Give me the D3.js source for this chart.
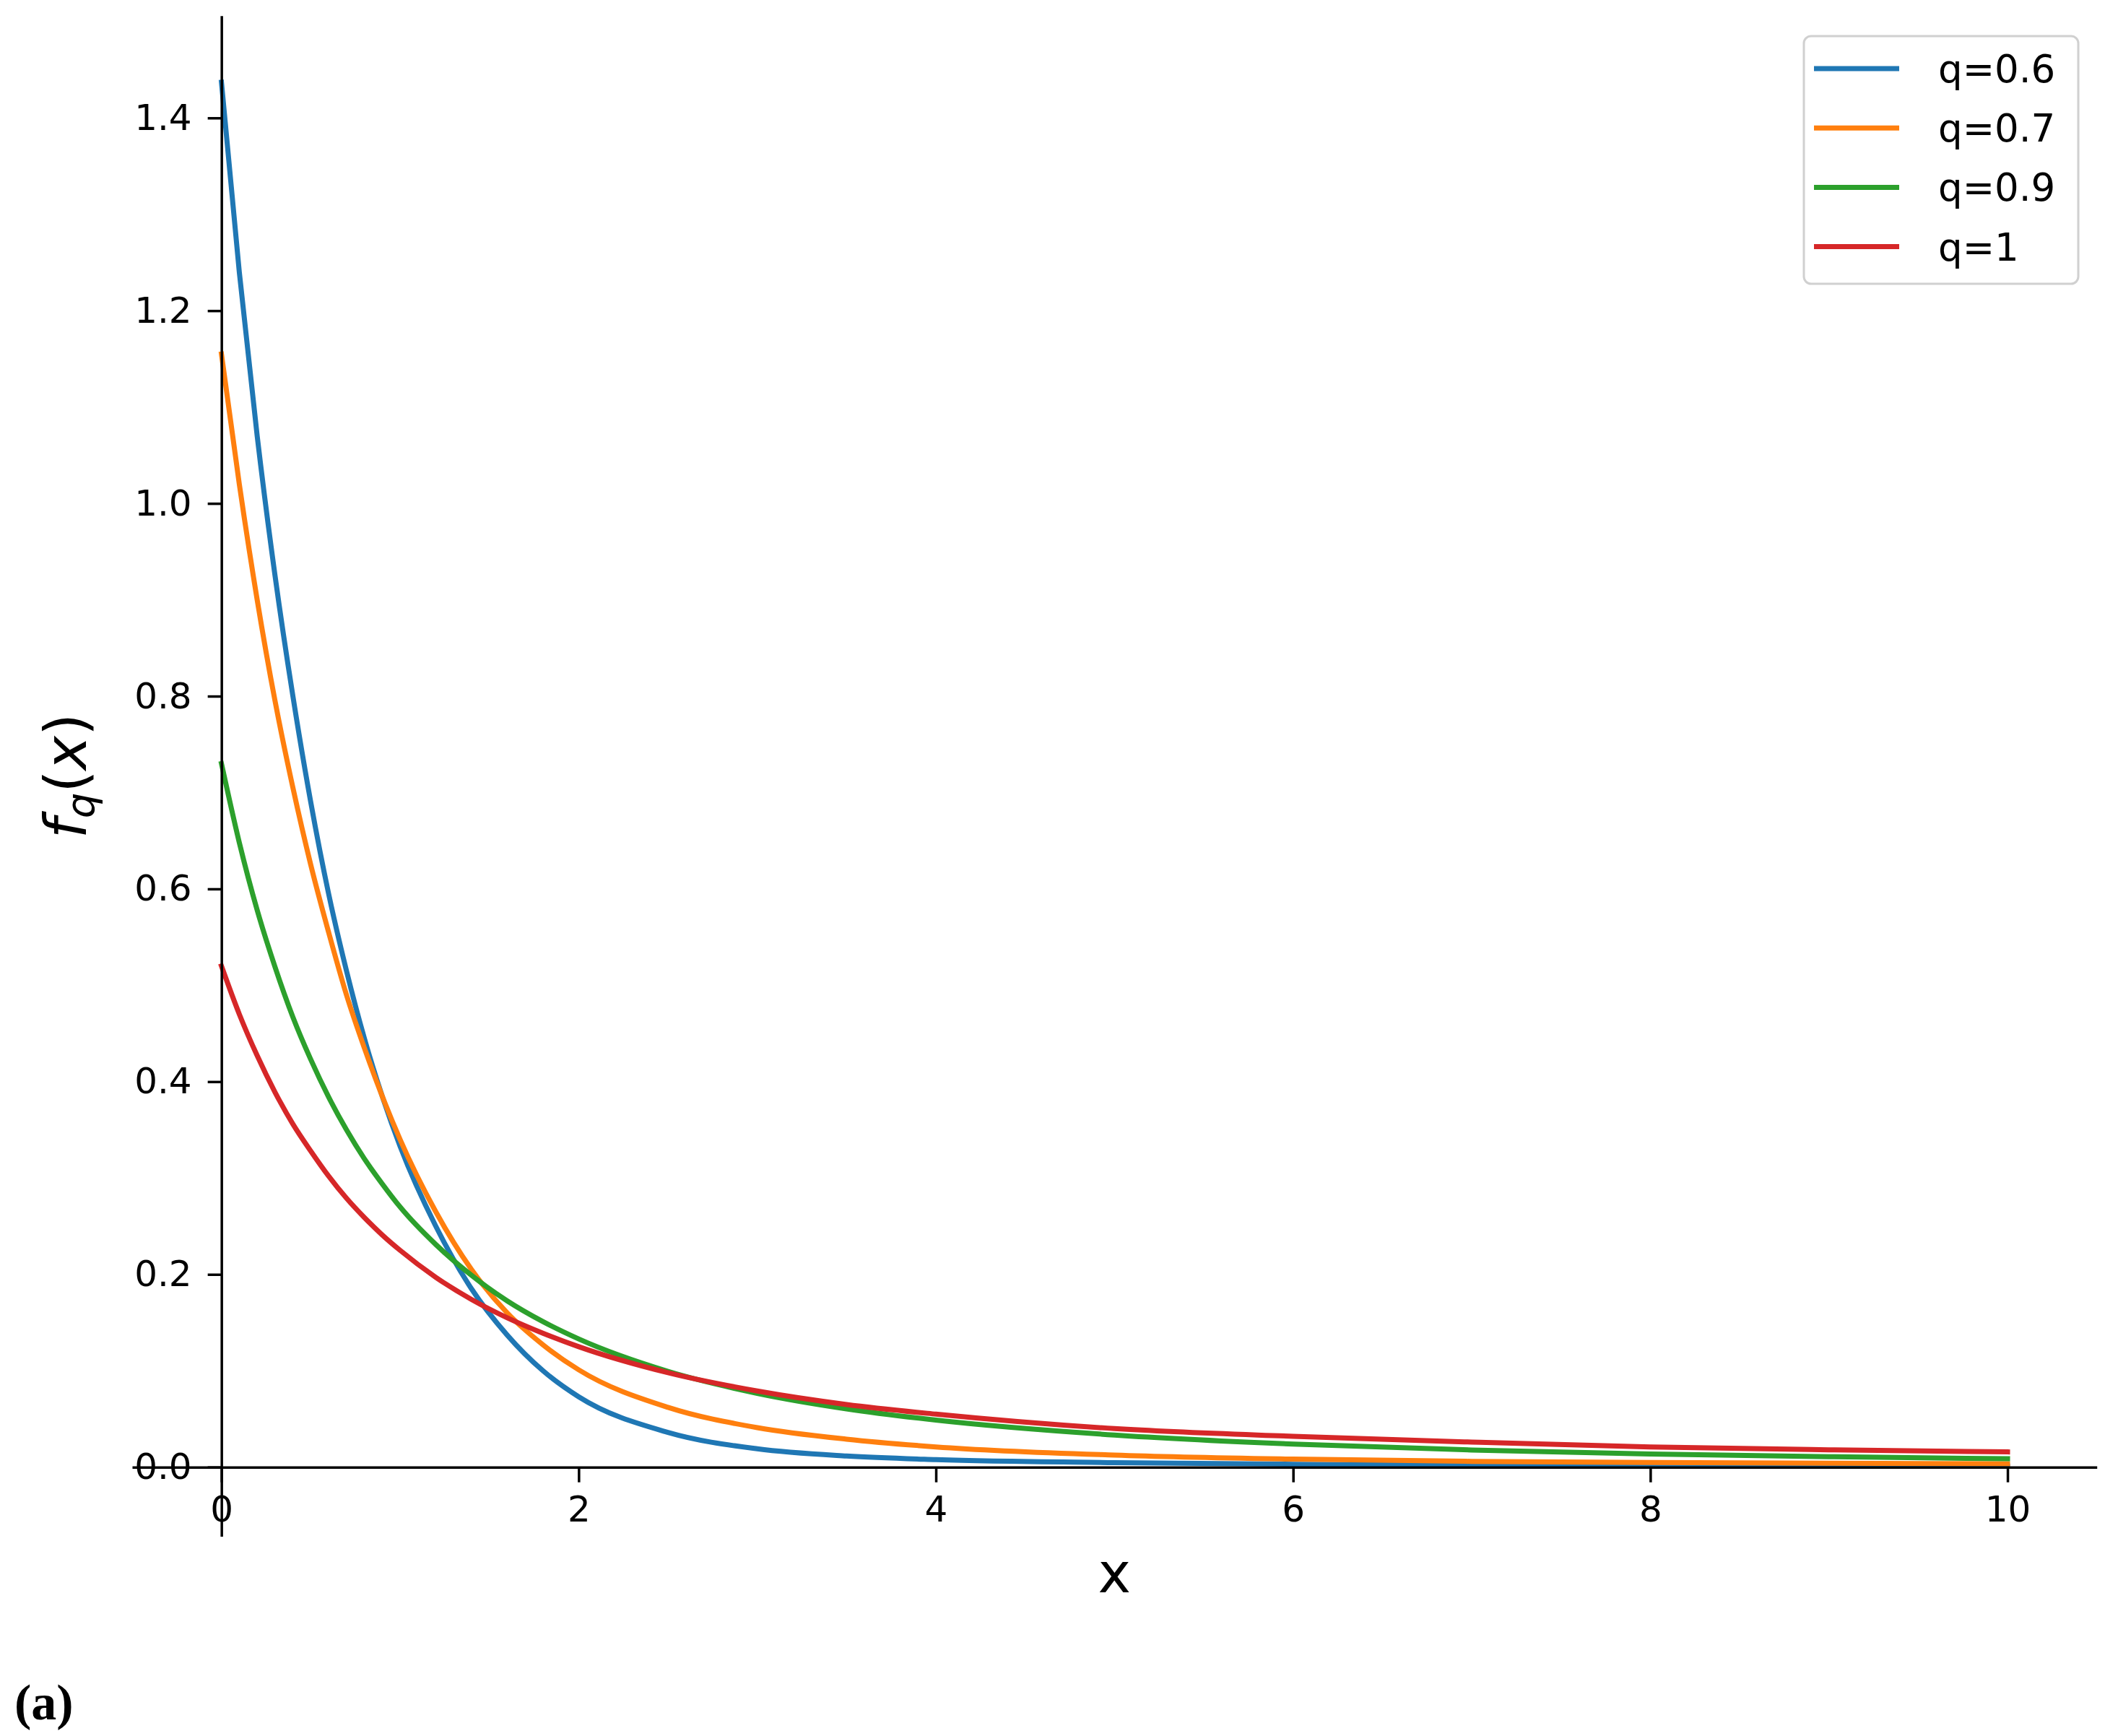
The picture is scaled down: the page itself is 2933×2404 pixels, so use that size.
<!DOCTYPE html>
<html>
<head>
<meta charset="utf-8">
<script src="https://cdnjs.cloudflare.com/ajax/libs/d3/7.8.5/d3.min.js"></script>
<style>
	body { margin: 0; background: #fff; }
	text { font-family: "DejaVu Sans", sans-serif; fill: #000; }
</style>
</head>
<body>
<div id="vis"></div>
<script>

// sample points
var xs = [0, 0.1, 0.2, 0.3, 0.4, 0.5, 0.6, 0.7, 0.8, 0.9, 1.0, 1.2, 1.4, 1.6, 1.8, 2.0, 2.5, 3, 3.5, 4, 5, 6, 7, 8, 9, 10];

var q06 = [1.437, 1.24, 1.07, 0.925, 0.80, 0.69, 0.595, 0.515, 0.445, 0.385, 0.333, 0.25, 0.185, 0.137, 0.1, 0.073, 0.036, 0.019, 0.0115, 0.0078, 0.0047, 0.003, 0.0022, 0.0017, 0.0013, 0.001];
var q07 = [1.155, 1.02, 0.90, 0.795, 0.705, 0.625, 0.555, 0.49, 0.435, 0.385, 0.34, 0.265, 0.205, 0.16, 0.127, 0.101, 0.062, 0.041, 0.029, 0.021, 0.0125, 0.0083, 0.006, 0.0048, 0.004, 0.0035];
var q09 = [0.73, 0.648, 0.578, 0.519, 0.467, 0.423, 0.384, 0.35, 0.32, 0.294, 0.27, 0.231, 0.199, 0.1725, 0.151, 0.133, 0.0994, 0.0766, 0.0605, 0.0488, 0.0333, 0.0239, 0.0178, 0.0137, 0.0108, 0.0087];
var q10 = [0.52, 0.47, 0.427, 0.389, 0.356, 0.328, 0.302, 0.279, 0.259, 0.241, 0.225, 0.197, 0.174, 0.155, 0.139, 0.125, 0.098, 0.079, 0.065, 0.055, 0.040, 0.032, 0.026, 0.021, 0.018, 0.0158];

var seriesNames = ["q=0.6", "q=0.7", "q=0.9", "q=1"];
var seriesValues = [q06, q07, q09, q10];
var colors = ["#1f77b4", "#ff7f0e", "#2ca02c", "#d62728"];

var xTicks = [0, 2, 4, 6, 8, 10];
var yTicks = [0, 0.2, 0.4, 0.6, 0.8, 1.0, 1.2, 1.4];

var width = 2933,
	height = 2404;

var x = d3.scaleLinear().domain([-0.5, 10.5]).range([183, 2903.7]),
	y = d3.scaleLinear().domain([-0.0718, 1.5061]).range([2127.5, 21.7]);

var svg = d3.select('#vis')
	.append('svg')
	.attr('width', width)
	.attr('height', height);

var line = d3.line()
	.x(function(d) { return x(d[0]); })
	.y(function(d) { return y(d[1]); })
	.curve(d3.curveMonotoneX);

svg.append('g')
	.selectAll('path')
	.data(seriesValues)
	.enter()
	.append('path')
	.attr('d', function(vals) {
		return line(xs.map(function(v, i) { return [v, vals[i]]; }));
	})
	.style('fill', 'none')
	.style('stroke', function(d, i) { return colors[i]; })
	.style('stroke-width', 7)
	.style('stroke-linecap', 'square')
	.style('stroke-linejoin', 'round');

// spines through the origin
var xAxis = d3.axisBottom(x)
	.tickValues(xTicks)
	.tickFormat(d3.format('d'))
	.tickSizeInner(21)
	.tickSizeOuter(0)
	.tickPadding(19);

var yAxis = d3.axisLeft(y)
	.tickValues(yTicks)
	.tickFormat(d3.format('.1f'))
	.tickSizeInner(19)
	.tickSizeOuter(0)
	.tickPadding(22);

var gx = svg.append('g')
	.attr('transform', 'translate(0,' + y(0) + ')')
	.call(xAxis);

var gy = svg.append('g')
	.attr('transform', 'translate(' + x(0) + ',0)')
	.call(yAxis);

[gx, gy].forEach(function(g) {
	g.select('.domain').style('stroke', '#000').style('stroke-width', 3.5);
	g.selectAll('.tick line').style('stroke', '#000').style('stroke-width', 3.5);
	g.selectAll('.tick text')
		.style('font-family', '"DejaVu Sans", sans-serif')
		.style('font-size', '50px')
		.style('fill', '#000');
});

// axis labels
svg.append('text')
	.attr('x', (x.range()[0] + x.range()[1]) / 2)
	.attr('y', 2205)
	.attr('text-anchor', 'middle')
	.style('font-size', '77px')
	.text('x');

var yl = svg.append('text')
	.attr('transform', 'translate(119,' + ((y.range()[0] + y.range()[1]) / 2) + ') rotate(-90)')
	.attr('text-anchor', 'middle')
	.style('font-size', '80px');
yl.append('tspan').style('font-style', 'italic').text('f');
yl.append('tspan').style('font-style', 'italic').style('font-size', '56px').attr('dy', 12).text('q');
yl.append('tspan').attr('dy', -12).text('(');
yl.append('tspan').style('font-style', 'italic').text('x');
yl.append('tspan').text(')');

// legend
var legend = svg.append('g');

legend.append('rect')
	.attr('x', 2498)
	.attr('y', 50)
	.attr('width', 380)
	.attr('height', 343)
	.attr('rx', 10)
	.style('fill', 'rgba(255,255,255,0.8)')
	.style('stroke', '#d0d0d0')
	.style('stroke-width', 3);

var items = legend.selectAll('g.item')
	.data(seriesNames)
	.enter()
	.append('g')
	.attr('class', 'item')
	.attr('transform', function(d, i) { return 'translate(0,' + (95 + i * 82.2) + ')'; });

items.append('line')
	.attr('x1', 2512)
	.attr('x2', 2630)
	.style('stroke', function(d, i) { return colors[i]; })
	.style('stroke-width', 7);

items.append('text')
	.attr('x', 2684)
	.attr('y', 19)
	.style('font-size', '53px')
	.text(function(d) { return d; });

svg.append('text')
	.attr('x', 20)
	.attr('y', 2381)
	.style('font-family', '"Liberation Serif", serif')
	.style('font-weight', 'bold')
	.style('font-size', '70px')
	.text('(a)');

</script>
</body>
</html>
